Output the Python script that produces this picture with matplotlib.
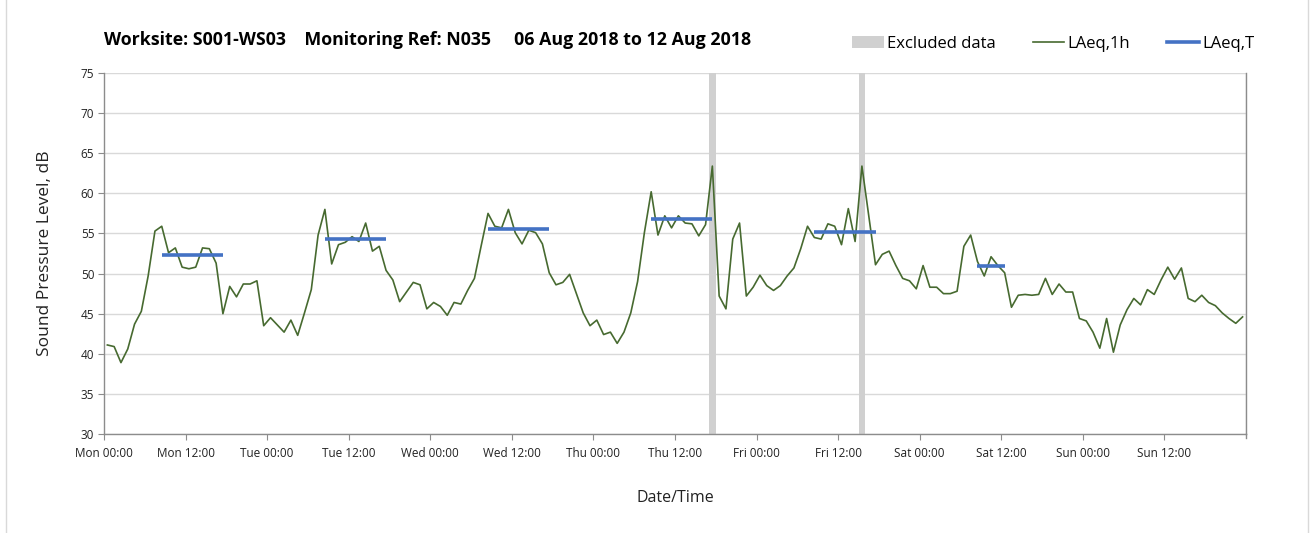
import matplotlib.pyplot as plt
import numpy as np
from matplotlib.lines import Line2D
from matplotlib.patches import Patch

plt.rcParams['font.family'] = ['Open Sans', 'DejaVu Sans']

# hourly LAeq,1h values, Mon 00:00 .. Sun 23:00
laeq_1h = [
    41.1, 40.9, 38.9, 40.6, 43.7, 45.3, 49.7, 55.3, 55.9, 52.6, 53.2, 50.8,
    50.6, 50.8, 53.2, 53.1, 51.3, 45.0, 48.4, 47.1, 48.7, 48.7, 49.1, 43.5,
    44.5, 43.6, 42.7, 44.2, 42.3, 45.1, 48.0, 54.8, 58.0, 51.2, 53.6, 53.9,
    54.6, 54.0, 56.3, 52.8, 53.4, 50.4, 49.2, 46.5, 47.7, 48.9, 48.6, 45.6,
    46.4, 45.9, 44.8, 46.4, 46.2, 47.9, 49.4, 53.5, 57.5, 55.9, 55.7, 58.0,
    55.1, 53.7, 55.4, 55.1, 53.7, 50.1, 48.6, 48.9, 49.9, 47.5, 45.1, 43.5,
    44.2, 42.4, 42.7, 41.3, 42.7, 45.1, 49.0, 55.1, 60.2, 54.8, 57.2, 55.7,
    57.2, 56.3, 56.2, 54.7, 56.1, 63.4, 47.2, 45.6, 54.3, 56.3, 47.2, 48.3,
    49.8, 48.5, 47.9, 48.5, 49.7, 50.7, 53.1, 55.9, 54.5, 54.3, 56.2, 55.9,
    53.6, 58.1, 54.0, 63.4, 57.2, 51.1, 52.4, 52.8, 51.0, 49.4, 49.1, 48.1,
    51.0, 48.3, 48.3, 47.5, 47.5, 47.8, 53.4, 54.8, 51.5, 49.7, 52.1, 51.0,
    50.1, 45.8, 47.3, 47.4, 47.3, 47.4, 49.4, 47.4, 48.7, 47.7, 47.7, 44.4,
    44.1, 42.7, 40.7, 44.4, 40.2, 43.6, 45.5, 46.9, 46.1, 48.0, 47.4, 49.2,
    50.8, 49.3, 50.7, 46.9, 46.5, 47.3, 46.4, 46.0, 45.1, 44.4, 43.8, 44.6,
]

# LAeq,T over each daytime period: first hour, last hour, level
period_start = [8, 32, 56, 80, 104, 128]
period_end = [17, 41, 65, 89, 113, 132]
period_level = [52.3, 54.3, 55.5, 56.8, 55.2, 51.0]

# hours flagged as excluded
excluded_hours = [89, 111]

days = ['Mon', 'Tue', 'Wed', 'Thu', 'Fri', 'Sat', 'Sun']

GREEN = '#476a30'
BLUE = '#4472c4'
GRID = '#d9d9d9'
AXIS = '#8c8c8c'

fig = plt.figure(figsize=(13.11, 5.33), dpi=100)
ax = fig.add_axes([0.0793, 0.1857, 0.8711, 0.6773])

for h in excluded_hours:
    ax.axvspan(h, h + 1, color='#d0d0d0', lw=0, zorder=1)

hours = np.arange(len(laeq_1h)) + 0.5
ax.plot(hours, laeq_1h, color=GREEN, lw=1.2, zorder=3)

for s, e, lv in zip(period_start, period_end, period_level):
    ax.plot([s + 0.5, e + 0.5], [lv, lv], color=BLUE, lw=2.6,
            solid_capstyle='butt', zorder=4)

ax.set_xlim(0, 168)
ax.set_ylim(30, 75)
ax.set_yticks(np.arange(30, 76, 5))
ax.set_xticks(np.arange(0, 168, 12))
ax.set_xticklabels([f'{d} {t}' for d in days for t in ('00:00', '12:00')])
ax.set_xticks(np.arange(0, 169, 24), minor=True)

ax.grid(axis='y', color=GRID, lw=1.0, zorder=0)
ax.grid(axis='x', which='minor', color=GRID, lw=1.0, zorder=0)
ax.set_axisbelow(True)

for side in ('left', 'bottom', 'right'):
    ax.spines[side].set_color(AXIS)
    ax.spines[side].set_linewidth(1.0)
ax.spines['top'].set_visible(False)

ax.tick_params(axis='both', which='major', length=4, color=AXIS,
               labelsize=8.5, labelcolor='#222222', pad=3)
ax.tick_params(axis='x', which='major', pad=5)
ax.tick_params(axis='x', which='minor', length=0)
# tick mark at the right end of the time axis
ax.plot([168, 168], [0, -0.011], transform=ax.get_xaxis_transform(),
        color=AXIS, lw=1.0, clip_on=False)

ax.set_ylabel('Sound Pressure Level, dB', fontsize=12.5, color='#222222', labelpad=20)
ax.set_xlabel('Date/Time', fontsize=11.5, color='#222222', labelpad=22)

fig.text(0.0795, 0.925,
         'Worksite: S001-WS03    Monitoring Ref: N035     06 Aug 2018 to 12 Aug 2018',
         fontsize=12.8, fontweight='bold', color='black', va='center', ha='left')

handles = [Patch(facecolor='#d0d0d0', edgecolor='none'),
           Line2D([], [], color=GREEN, lw=1.2),
           Line2D([], [], color=BLUE, lw=2.6)]
fig.legend(handles, ['Excluded data', 'LAeq,1h', 'LAeq,T'],
           loc='center right', bbox_to_anchor=(0.968, 0.918), ncol=3,
           frameon=False, fontsize=12, handlelength=1.9, handletextpad=0.2,
           columnspacing=2.2, handleheight=0.8)

# light frame lines either side of the chart area
fig.add_artist(Line2D([0.0046, 0.0046], [0, 1], transform=fig.transFigure,
                      color='#d9d9d9', lw=1.0))
fig.add_artist(Line2D([0.9977, 0.9977], [0, 1], transform=fig.transFigure,
                      color='#d9d9d9', lw=1.0))

fig.savefig('out.png', dpi=100)
